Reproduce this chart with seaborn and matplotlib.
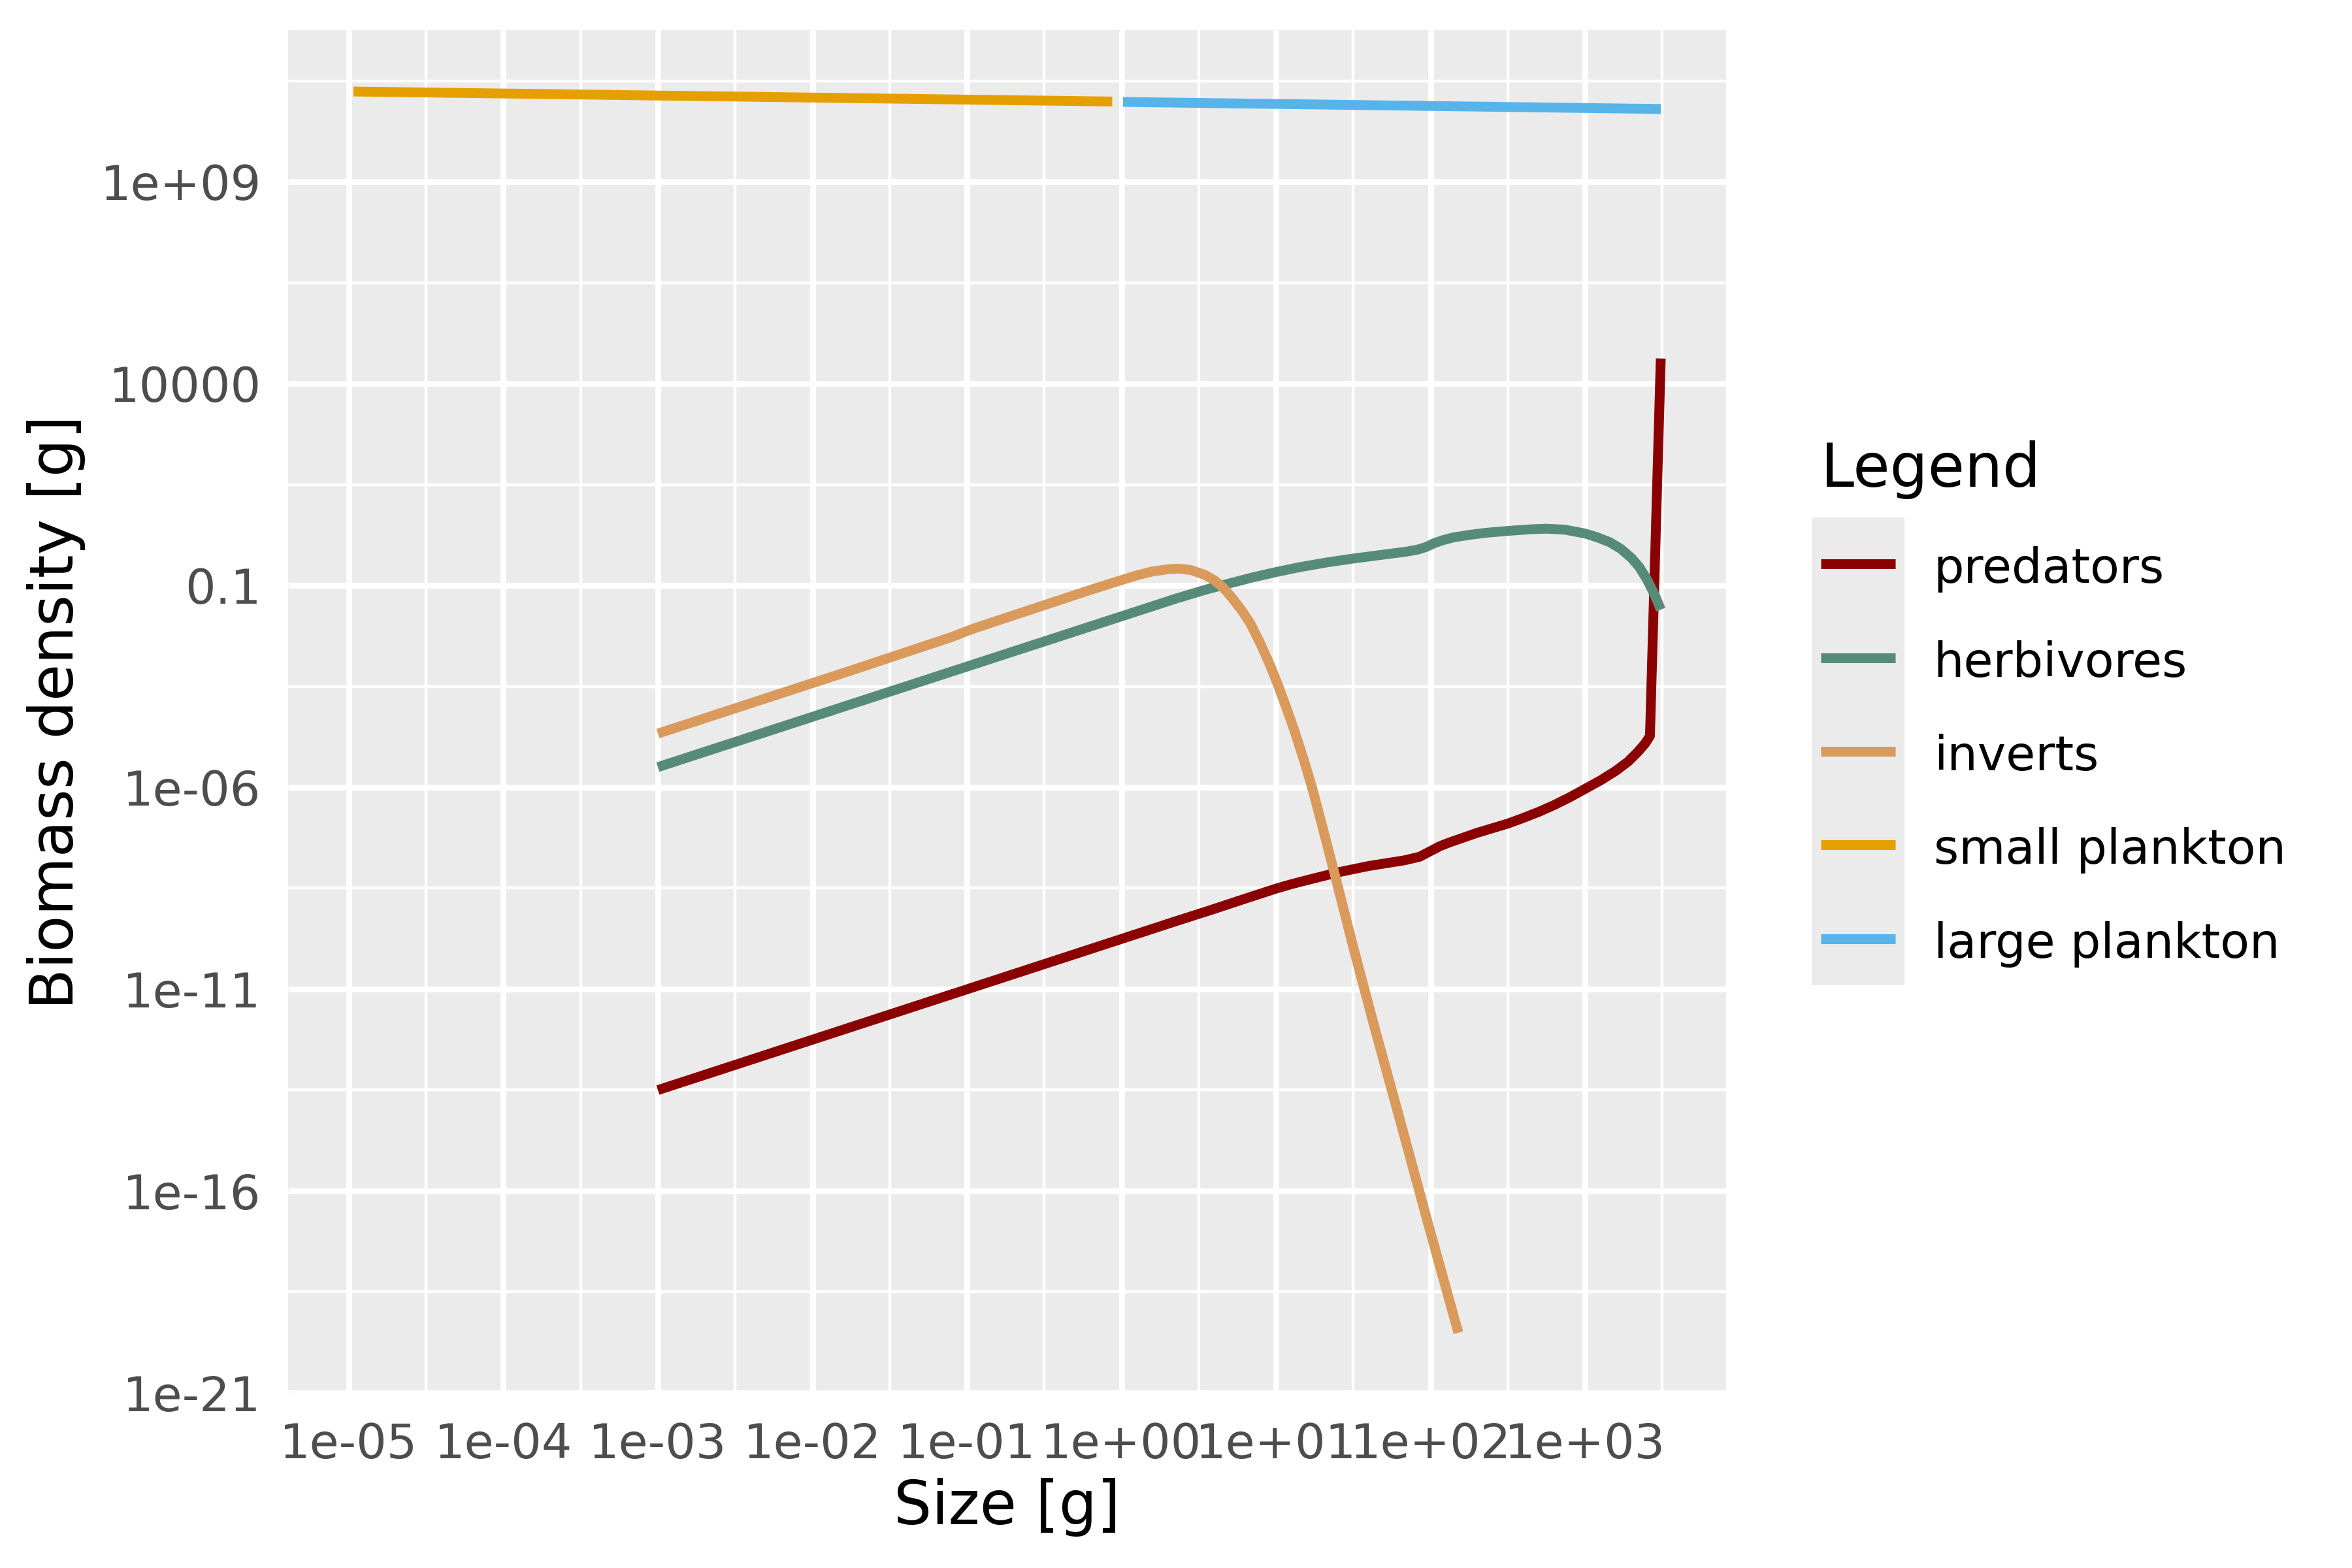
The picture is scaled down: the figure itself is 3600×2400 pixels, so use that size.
import numpy as np
import pandas as pd
import matplotlib
matplotlib.use("Agg")
import matplotlib.pyplot as plt
import seaborn as sns
from matplotlib.ticker import FixedLocator, FixedFormatter, NullFormatter
from matplotlib.patches import Rectangle

# ---------------- data (log10 values) ----------------
species = ["predators", "herbivores", "inverts", "small plankton", "large plankton"]
colours = ["#8B0000", "#568B7A", "#D99A5B", "#E69F00", "#56B4E9"]

pred_log_w = [-3.00, 0.35, 0.57, 0.80, 1.00, 1.10, 1.20, 1.41, 1.60, 1.83, 1.93,
              1.99, 2.06, 2.12, 2.30, 2.50, 2.60, 2.70, 2.80, 2.90, 3.00, 3.10,
              3.20, 3.28, 3.34, 3.39, 3.42, 3.49]
pred_log_b = [-13.50, -9.32, -9.05, -8.76, -8.51, -8.40, -8.30, -8.10, -7.95, -7.81, -7.72,
              -7.60, -7.46, -7.37, -7.13, -6.90, -6.76, -6.61, -6.44, -6.25, -6.04, -5.83,
              -5.59, -5.36, -5.13, -4.91, -4.73, 4.62]

herb_log_w = [-3.00, 0.35, 0.55, 0.72, 0.85, 1.00, 1.15, 1.33, 1.50, 1.70, 1.85, 1.92,
              1.97, 2.02, 2.08, 2.15, 2.25, 2.35, 2.50, 2.65, 2.75, 2.87, 3.00, 3.08,
              3.16, 3.23, 3.30, 3.35, 3.40, 3.45, 3.49]
herb_log_b = [-5.50, -1.33, -1.10, -0.93, -0.80, -0.67, -0.55, -0.43, -0.335, -0.235, -0.16, -0.11,
              -0.05, 0.04, 0.12, 0.19, 0.25, 0.30, 0.35, 0.39, 0.405, 0.38, 0.285, 0.19,
              0.07, -0.09, -0.32, -0.54, -0.85, -1.23, -1.60]

inv_log_w = [-3.00, -1.76, -1.10, -1.02, -0.95, -0.50, -0.20, -0.01, 0.10, 0.20, 0.30, 0.37,
             0.45, 0.54, 0.60, 0.66, 0.72, 0.78, 0.835, 0.90, 0.96, 1.013, 1.07, 1.121,
             1.18, 1.233, 1.30, 1.375, 1.50, 1.64, 1.785, 1.98, 2.18]
inv_log_b = [-4.67, -3.12, -2.28, -2.16, -2.06, -1.49, -1.11, -0.88, -0.75, -0.655, -0.60, -0.585,
             -0.62, -0.74, -0.87, -1.06, -1.33, -1.63, -1.95, -2.45, -2.96, -3.47, -4.06, -4.62,
             -5.32, -6.00, -6.97, -8.08, -9.96, -11.98, -14.00, -16.75, -19.51]

small_log_w = [-4.97, -0.06]
small_log_b = [11.233, 10.985]

large_log_w = [0.01, 3.49]
large_log_b = [10.975, 10.80]

x_tick_exps = [-5, -4, -3, -2, -1, 0, 1, 2, 3]
x_tick_labels = ["1e-05", "1e-04", "1e-03", "1e-02", "1e-01", "1e+00", "1e+01", "1e+02", "1e+03"]
y_tick_exps = [-21, -16, -11, -6, -1, 4, 9]
y_tick_labels = ["1e-21", "1e-16", "1e-11", "1e-06", "0.1", "10000", "1e+09"]

# ---------------- long table ----------------
series = {
    "predators": (pred_log_w, pred_log_b),
    "herbivores": (herb_log_w, herb_log_b),
    "inverts": (inv_log_w, inv_log_b),
    "small plankton": (small_log_w, small_log_b),
    "large plankton": (large_log_w, large_log_b),
}
rows = []
for sp in species:
    lw, lb = series[sp]
    for i, (a, b) in enumerate(zip(lw, lb)):
        rows.append({"Legend": sp, "size": 10.0 ** a, "biomass": 10.0 ** b, "idx": i})
df = pd.DataFrame(rows)

# ---------------- style ----------------
sns.set_theme(style="darkgrid")
plt.rcParams["font.family"] = ["DejaVu Sans"]
plt.rcParams["lines.solid_capstyle"] = "butt"
plt.rcParams["lines.solid_joinstyle"] = "round"

fig = plt.figure(figsize=(6, 4), dpi=600)
fig.patch.set_facecolor("white")
ax = fig.add_axes([0.1225, 0.1104, 0.7339 - 0.1225, 0.9808 - 0.1104])
ax.set_facecolor("#EBEBEB")

LW = 1.8
sns.lineplot(data=df, x="size", y="biomass", hue="Legend", hue_order=species,
             palette=dict(zip(species, colours)), sort=False, estimator=None,
             linewidth=LW, ax=ax)

ax.set_xscale("log")
ax.set_yscale("log")
ax.set_xlim(10 ** -5.393, 10 ** 3.913)
ax.set_ylim(10 ** -21.05, 10 ** 12.754)

ax.xaxis.set_major_locator(FixedLocator([10.0 ** e for e in x_tick_exps]))
ax.xaxis.set_major_formatter(FixedFormatter(x_tick_labels))
ax.xaxis.set_minor_locator(FixedLocator([10.0 ** (e + 0.5) for e in range(-6, 4)]))
ax.xaxis.set_minor_formatter(NullFormatter())
ax.yaxis.set_major_locator(FixedLocator([10.0 ** e for e in y_tick_exps]))
ax.yaxis.set_major_formatter(FixedFormatter(y_tick_labels))
ax.yaxis.set_minor_locator(FixedLocator([10.0 ** (e + 2.5) for e in range(-26, 14, 5)]))
ax.yaxis.set_minor_formatter(NullFormatter())

ax.set_axisbelow(True)
ax.grid(which="major", color="white", linewidth=1.07)
ax.grid(which="minor", color="white", linewidth=0.53)
for s in ax.spines.values():
    s.set_visible(False)
ax.tick_params(which="major", direction="out", length=2.75, width=1.07,
               color="#333333", labelcolor="#4D4D4D", labelsize=8.8, pad=2.2)
ax.tick_params(which="minor", length=0)

ax.set_xlabel("Size [g]", fontsize=11, color="black", labelpad=1.8)
ax.set_ylabel("Biomass density [g]", fontsize=11, color="black", labelpad=2.75)

# ---------------- legend ----------------
handles, labels = ax.get_legend_handles_labels()
if ax.get_legend() is not None:
    ax.get_legend().remove()
for h in handles:
    h.set_linewidth(LW)
    h.set_solid_capstyle("butt")
W, H = 3600.0, 2400.0
leg = fig.legend(handles, labels, title="Legend", loc="upper left",
                 bbox_to_anchor=(2787 / W, 1 - 674 / H), bbox_transform=fig.transFigure,
                 frameon=False, borderpad=0, borderaxespad=0,
                 handlelength=1.555, handleheight=1.0, labelspacing=0.96,
                 handletextpad=0.80, fontsize=8.8, title_fontsize=11,
                 alignment="left")
for t in leg.get_texts():
    t.set_color("black")
leg.get_title().set_color("black")

fig.canvas.draw()
r = fig.canvas.get_renderer()
exts = [ln.get_window_extent(r) for ln in leg.get_lines()]
x0 = min(e.x0 for e in exts)
x1 = max(e.x1 for e in exts)
ys = [0.5 * (e.y0 + e.y1) for e in exts]
inset = (x1 - x0) * 0.125
pitch = (max(ys) - min(ys)) / (len(ys) - 1)
rx0 = x0 - inset
rx1 = x1 + inset
ry0 = min(ys) - pitch / 2
ry1 = max(ys) + pitch / 2
fw, fh = fig.bbox.width, fig.bbox.height
rect = Rectangle((rx0 / fw, ry0 / fh), (rx1 - rx0) / fw, (ry1 - ry0) / fh,
                 transform=fig.transFigure, facecolor="#EBEBEB", edgecolor="none", zorder=1)
fig.add_artist(rect)

fig.savefig("out.png", dpi=600)
